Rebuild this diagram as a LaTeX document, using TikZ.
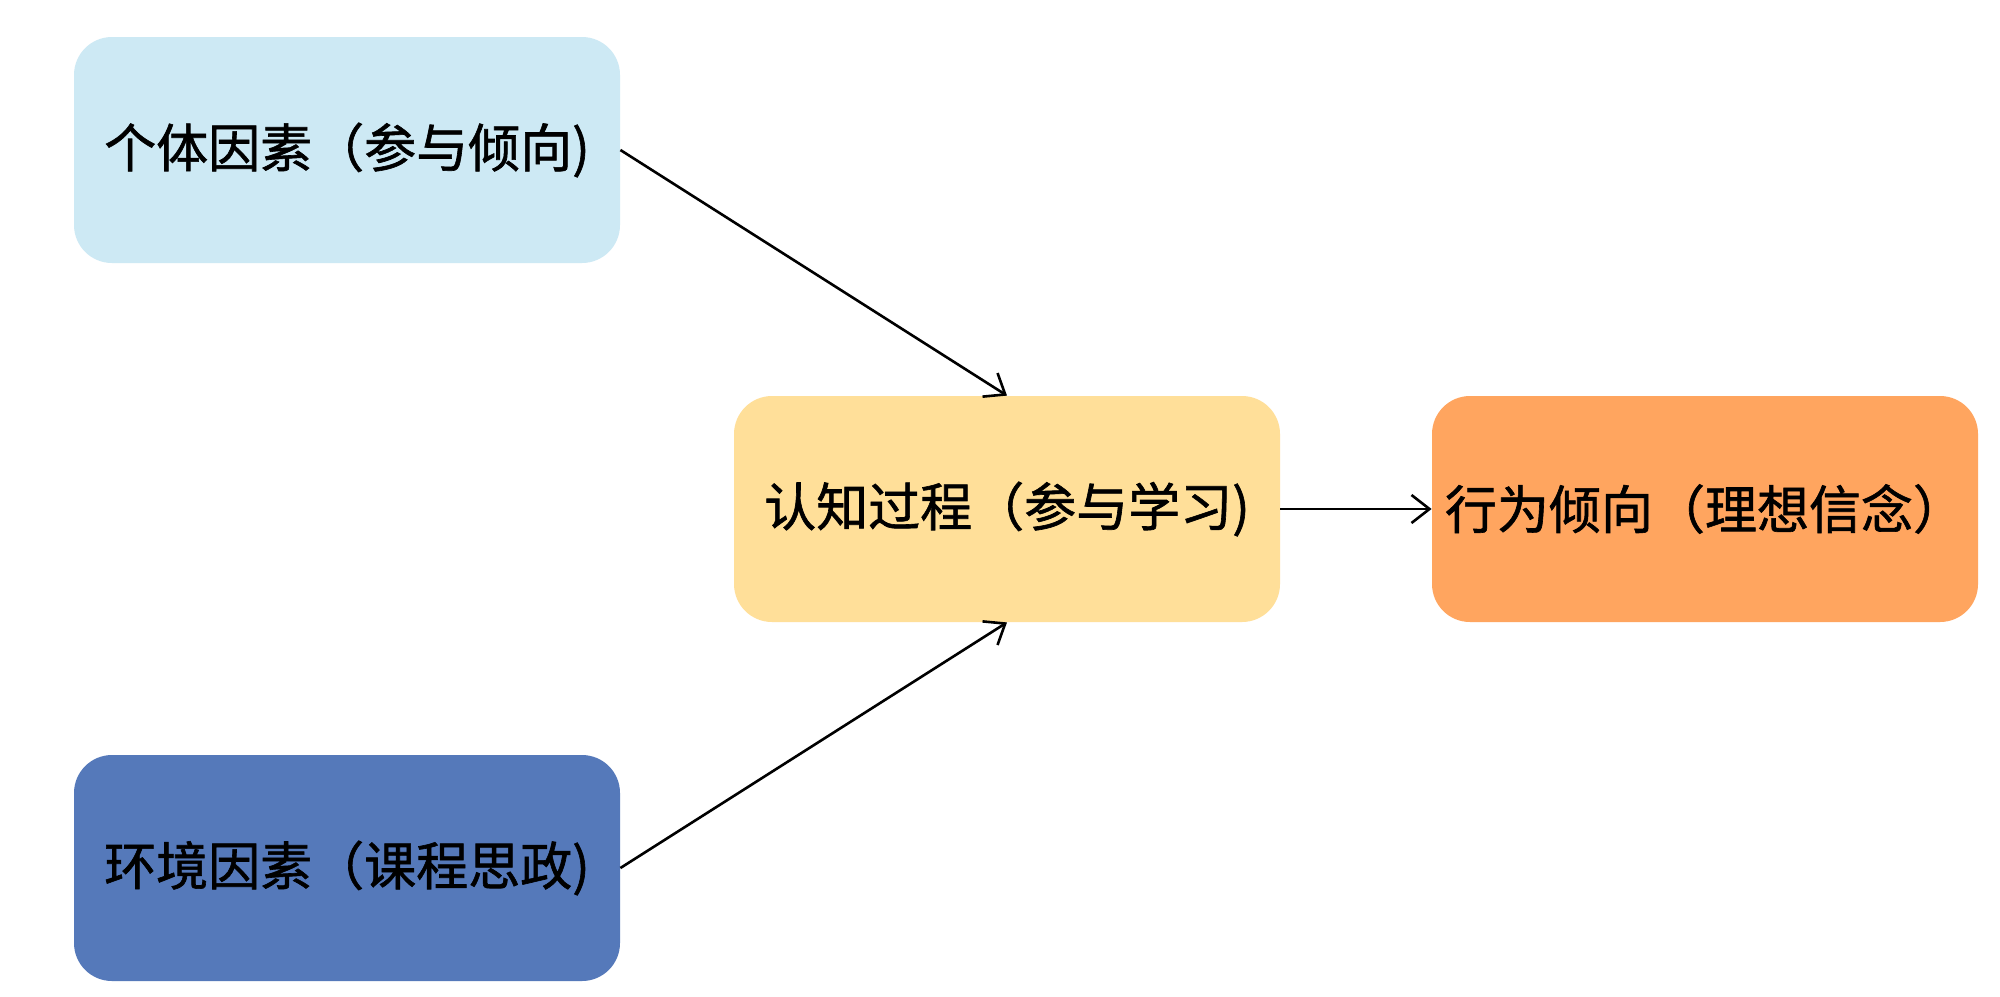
\documentclass[tikz,border=0pt]{standalone}
\usepackage{fontspec}
\newfontfamily\cjk[FakeBold=1.2]{Noto Sans CJK SC}
\usetikzlibrary{arrows.meta}
\definecolor{cblue}{HTML}{CDE9F4}
\definecolor{cyellow}{HTML}{FFDF99}
\definecolor{corange}{HTML}{FFA55F}
\definecolor{cdblue}{HTML}{5579BA}
\begin{document}
\begin{tikzpicture}[x=0.5pt,y=-0.5pt,
  box/.style={rectangle, rounded corners=19pt, minimum width=273pt, minimum height=113pt,
    inner sep=0pt, font=\cjk\fontsize{26pt}{31pt}\selectfont, text=black},
  conn/.style={draw=black, line width=1.3pt, -{Straight Barb[length=9pt,width=14pt,line width=1.3pt]}}]
\useasboundingbox (0,0) rectangle (2000,996);
\fill[white] (0,0) rectangle (2000,996);
\node[box, fill=cblue] (a) at (347,150) {\raisebox{1.5pt}{个体因素（参与倾向)}};
\node[box, fill=cyellow] (b) at (1007,509) {\raisebox{1.5pt}{认知过程（参与学习)}};
\node[box, fill=corange] (c) at (1705,509) {\raisebox{1.5pt}{行为倾向（理想信念）}};
\node[box, fill=cdblue] (d) at (347,868) {\raisebox{1.5pt}{环境因素（课程思政)}};
\draw[conn] (a.east) -- (b.north);
\draw[conn] (d.east) -- (b.south);
\draw[conn] (b.east) -- (c.west);
\end{tikzpicture}
\end{document}
